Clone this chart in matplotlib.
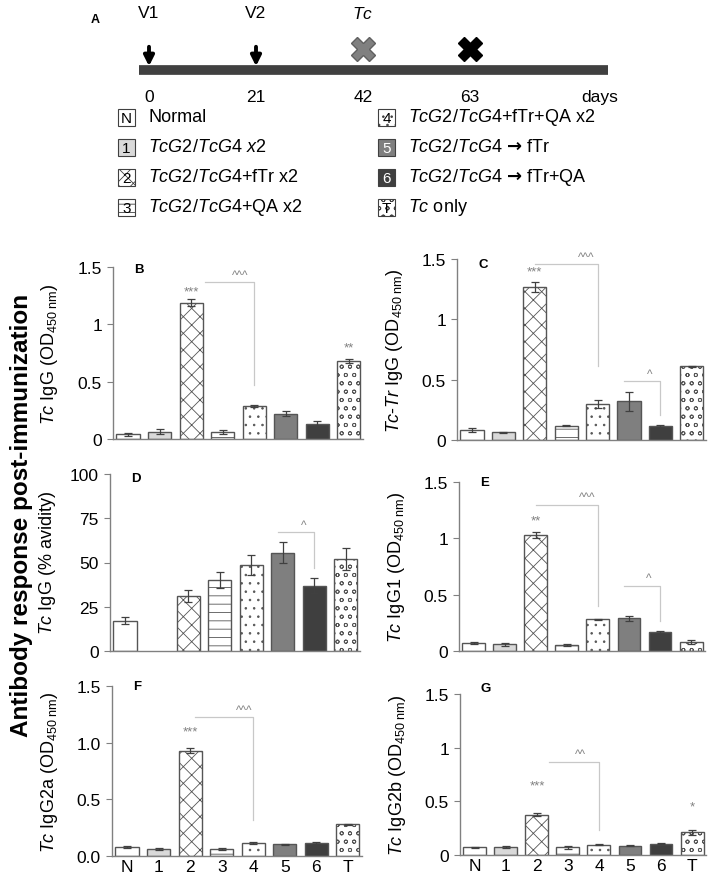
import numpy as np
import matplotlib
matplotlib.use('Agg')
import matplotlib.pyplot as plt
from matplotlib.patches import Rectangle

plt.rcParams['font.family'] = ['Liberation Sans', 'DejaVu Sans']
plt.rcParams['mathtext.fontset'] = 'custom'
plt.rcParams['mathtext.rm'] = 'Liberation Sans'
plt.rcParams['mathtext.it'] = 'Liberation Sans:italic'
plt.rcParams['mathtext.bf'] = 'Liberation Sans:bold'
plt.rcParams['mathtext.sf'] = 'DejaVu Sans:bold'
plt.rcParams['hatch.linewidth'] = 0.6

# groups
groups = ['N', '1', '2', '3', '4', '5', '6', 'T']
legend_labels = ['Normal',
                 r'$\mathit{TcG2/TcG4\ x2}$',
                 r'$\mathit{TcG2/TcG4}$+fTr x2',
                 r'$\mathit{TcG2/TcG4}$+QA x2',
                 r'$\mathit{TcG2/TcG4}$+fTr+QA x2',
                 r'$\mathit{TcG2/TcG4}$ $\mathsf{→}$ fTr',
                 r'$\mathit{TcG2/TcG4}$ $\mathsf{→}$ fTr+QA',
                 r'$\mathit{Tc}$ only']
face = ['white', '#d9d9d9', 'white', 'white', 'white', '#7f7f7f', '#3f3f3f', 'white']
hatch = [None, None, 'xx', '--', '..', None, None, 'oo']

# timeline (days)
vacc_days = [0, 21]
vacc_labels = ['V1', 'V2']
infect_day = 42
end_day = 63
day_ticks = [0, 21, 42, 63]

# panel data (OD450 / % avidity)
igg = [0.04, 0.065, 1.19, 0.06, 0.29, 0.22, 0.135, 0.68]
igg_err = [0.01, 0.02, 0.03, 0.02, 0.01, 0.02, 0.02, 0.02]
tctr_igg = [0.085, 0.065, 1.27, 0.12, 0.30, 0.32, 0.115, 0.61]
tctr_igg_err = [0.015, 0.005, 0.04, 0.005, 0.035, 0.08, 0.01, 0.005]
avidity = [17, np.nan, 31, 40, 48.5, 55.5, 37, 52]
avidity_err = [2, np.nan, 3.5, 4.5, 5.5, 6, 4, 6]
igg1 = [0.07, 0.06, 1.03, 0.05, 0.28, 0.29, 0.17, 0.08]
igg1_err = [0.01, 0.015, 0.03, 0.01, 0.005, 0.025, 0.01, 0.015]
igg2a = [0.08, 0.065, 0.93, 0.06, 0.115, 0.105, 0.115, 0.28]
igg2a_err = [0.005, 0.01, 0.02, 0.01, 0.01, 0.005, 0.005, 0.005]
igg2b = [0.072, 0.075, 0.375, 0.07, 0.095, 0.085, 0.105, 0.21]
igg2b_err = [0.005, 0.01, 0.015, 0.01, 0.005, 0.005, 0.005, 0.02]

# significance marks: (group, text, y) and brackets (x0, x1, ytop, ybottom, text, tx, ty)
stars_B = [(2, '***', 1.29), (7, '**', 0.80)]
brackets_B = [(2.45, 4, 1.37, 0.47, '^^^', 3.55, 1.43)]
stars_C = [(2, '***', 1.40)]
brackets_C = [(2.0, 4, 1.46, 0.61, '^^^', 3.65, 1.52), (4.85, 6, 0.49, 0.21, '^', 5.65, 0.55)]
stars_D = []
brackets_D = [(4.85, 6, 67, 47, '^', 5.65, 71)]
stars_E = [(2, '**', 1.16)]
brackets_E = [(2.0, 4, 1.30, 0.40, '^^^', 3.65, 1.37), (4.85, 6, 0.575, 0.265, '^', 5.65, 0.65)]
stars_F = [(2, '***', 1.10)]
brackets_F = [(2.15, 4, 1.225, 0.32, '^^^', 3.7, 1.29)]
stars_G = [(2, '***', 0.65), (7, '*', 0.45)]
brackets_G = [(2.4, 4, 0.87, 0.23, '^^', 3.4, 0.945)]

W, H = 708, 879
fig = plt.figure(figsize=(W / 100, H / 100), dpi=100)


def fx(px):
    return px / W


def fy(py):
    return 1 - py / H


# ---- panel A: timeline ----
tax = fig.add_axes([fx(149), fy(110), fx(470 - 149), 110 / H])
tax.set_xlim(0, end_day)
tax.set_ylim(110, 0)
tax.axis('off')
tax.plot([-2, 90], [71, 71], color='#404040', lw=7, solid_capstyle='butt', clip_on=False)
for d, lab in zip(vacc_days, vacc_labels):
    tax.annotate('', xy=(d, 70), xytext=(d, 45),
                 arrowprops=dict(arrowstyle='-|>', color='black', lw=2.8, mutation_scale=15))
    tax.text(d, 14, lab, ha='center', va='center', fontsize=12.5)
tax.text(infect_day, 14, r'$\mathit{Tc}$', ha='center', va='center', fontsize=12.5)
tax.plot(infect_day, 50, marker='X', markersize=17, color='#808080', mec='#606060', clip_on=False)
tax.plot(end_day, 50, marker='X', markersize=17, color='black', clip_on=False)
for d in day_ticks:
    tax.text(d, 98, str(d), ha='center', va='center', fontsize=12.5)
tax.text(88.5, 98, 'days', ha='center', va='center', fontsize=12.5, clip_on=False)
tax.text(-10.6, 20, 'A', ha='center', va='center', fontsize=9, fontweight='bold', clip_on=False)

# ---- legend ----
lax = fig.add_axes([0, 0, 1, 1])
lax.set_xlim(0, W)
lax.set_ylim(H, 0)
lax.axis('off')
for i, (g, lab) in enumerate(zip(groups, legend_labels)):
    col, row = divmod(i, 4)
    bx = 118 + col * 260
    by = 118 + row * 30
    lax.add_patch(Rectangle((bx, by - 8.5), 17, 17, facecolor=face[i], hatch=hatch[i],
                            edgecolor='#404040', lw=0.8))
    tc = 'white' if g in ('5', '6') else 'black'
    lax.text(bx + 8.5, by + 1, g, ha='center', va='center', fontsize=11, color=tc)
    lax.text(bx + 30, by, lab, ha='left', va='center', fontsize=13)

fig.text(fx(22), fy(515), 'Antibody response post-immunization', rotation=90,
         fontsize=17.5, fontweight='bold', ha='center', va='center')


def draw_panel(rect, vals, errs, ymax, yticks, yticklabels, ylabel, letter, letter_y,
               stars, brackets, show_x):
    ax = fig.add_axes(rect)
    x = np.arange(len(groups))
    bars = ax.bar(x, vals, width=0.74, color=face, edgecolor='#555555', lw=1.0, zorder=2)
    for b, h in zip(bars, hatch):
        if h:
            b.set_hatch(h)
    ax.errorbar(x, vals, yerr=errs, fmt='none', ecolor='#404040', elinewidth=0.9,
                capsize=3, capthick=0.9, zorder=3)
    ax.set_xlim(-0.48, 7.45)
    ax.set_ylim(0, ymax)
    ax.set_yticks(yticks)
    ax.set_yticklabels(yticklabels, fontsize=12.5)
    for s in ['top', 'right']:
        ax.spines[s].set_visible(False)
    for s in ['left', 'bottom']:
        ax.spines[s].set_color('#808080')
        ax.spines[s].set_linewidth(1.0)
    ax.tick_params(axis='y', length=4, color='#808080', pad=4)
    if show_x:
        ax.set_xticks(x)
        ax.set_xticklabels(groups, fontsize=12.5)
        ax.tick_params(axis='x', length=0, pad=2)
    else:
        ax.set_xticks([])
    ax.set_ylabel(ylabel, fontsize=13)
    ax.yaxis.set_label_coords(-0.21, 0.5)
    ax.text(0.085, letter_y, letter, transform=ax.transAxes, fontsize=9.5,
            fontweight='bold', ha='left', va='center')
    for gi, t, y in stars:
        ax.text(gi, y, t, ha='center', va='center', fontsize=9.5, color='#808080')
    for x0, x1, yt, yb, t, tx, ty in brackets:
        ax.plot([x0, x1, x1], [yt, yt, yb], color='#c8c8c8', lw=0.9, clip_on=False)
        ax.text(tx, ty, t, ha='center', va='center', fontsize=8.5, color='#808080',
                clip_on=False)
    return ax


od = r'(OD$_{\mathrm{450\ nm}}$)'
t3 = [0, 0.5, 1, 1.5]
l3 = ['0', '0.5', '1', '1.5']

draw_panel([fx(113), fy(440), fx(250), 172 / H], igg, igg_err, 1.5, t3, l3,
           r'$\mathit{Tc}$ IgG ' + od, 'B', 0.99, stars_B, brackets_B, False)
draw_panel([fx(457), fy(441), fx(249), 181 / H], tctr_igg, tctr_igg_err, 1.5, t3, l3,
           r'$\mathit{Tc}$-$\mathit{Tr}$ IgG ' + od, 'C', 0.97, stars_C, brackets_C, False)
draw_panel([fx(110), fy(652), fx(250), 177 / H], avidity, avidity_err, 100,
           [0, 25, 50, 75, 100], ['0', '25', '50', '75', '100'],
           r'$\mathit{Tc}$ IgG (% avidity)', 'D', 0.98, stars_D, brackets_D, False)
draw_panel([fx(459), fy(652), fx(246), 169 / H], igg1, igg1_err, 1.5, t3, l3,
           r'$\mathit{Tc}$ IgG1 ' + od, 'E', 1.0, stars_E, brackets_E, False)
draw_panel([fx(112), fy(857), fx(250), 170 / H], igg2a, igg2a_err, 1.5, t3,
           ['0.0', '0.5', '1.0', '1.5'],
           r'$\mathit{Tc}$ IgG2a ' + od, 'F', 1.0, stars_F, brackets_F, True)
draw_panel([fx(460), fy(856), fx(246), 161 / H], igg2b, igg2b_err, 1.5, t3, l3,
           r'$\mathit{Tc}$ IgG2b ' + od, 'G', 1.04, stars_G, brackets_G, True)

fig.savefig('out.png', dpi=100)
